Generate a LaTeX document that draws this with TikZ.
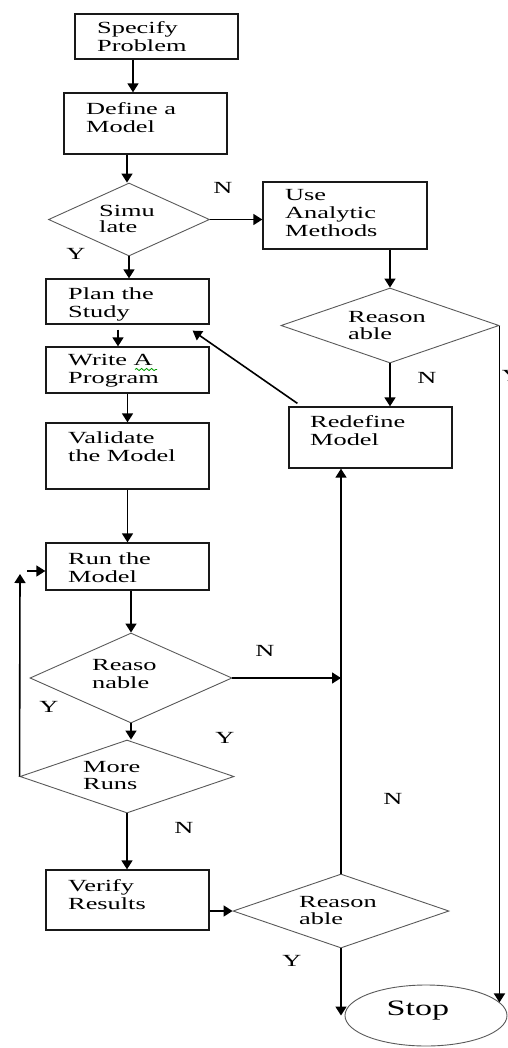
\documentclass[tikz,border=0pt]{standalone}
\usepackage{fontspec}
\setmainfont{Liberation Serif}[FakeStretch=1.55]
\usetikzlibrary{arrows.meta,shapes.geometric,decorations.pathmorphing}
\begin{document}
\begin{tikzpicture}[x=1bp,y=-1bp,
  proc/.style={draw=black!90,line width=1.3bp,rectangle,inner sep=0pt},
  dec/.style={draw=black!65,line width=0.9bp,diamond,inner sep=0pt},
  term/.style={draw=black!65,line width=0.9bp,ellipse,inner sep=0pt},
  txt/.style={font=\fontsize{17bp}{18bp}\selectfont,align=left,inner sep=0pt,anchor=north west,execute at begin node=\strut},
  dtxt/.style={font=\fontsize{17bp}{16.5bp}\selectfont,align=left,inner sep=0pt,anchor=north west,execute at begin node=\strut},
  lbl/.style={font=\fontsize{17bp}{18bp}\selectfont,inner sep=0pt},
  arr/.style={line width=1.6bp,-{Triangle[width=11bp,length=9bp]}},
  ln/.style={line width=1.6bp}]
\useasboundingbox (0,0) rectangle (508,1048);
\clip (0,0) rectangle (508,1048);
% boxes
\node[proc,minimum width=163bp,minimum height=45bp] (spec) at (156.5,36.5) {};
\node[proc,minimum width=163bp,minimum height=61bp] (def) at (145.5,123.5) {};
\node[proc,minimum width=164bp,minimum height=67bp] (use) at (345,215.5) {};
\node[proc,minimum width=163bp,minimum height=45bp] (plan) at (127.5,301.5) {};
\node[proc,minimum width=163bp,minimum height=46bp] (write) at (127.5,370) {};
\node[proc,minimum width=163bp,minimum height=66bp] (val) at (127.5,456) {};
\node[proc,minimum width=163bp,minimum height=47bp] (run) at (127.5,566.5) {};
\node[proc,minimum width=163bp,minimum height=60bp] (ver) at (127.5,900) {};
\node[proc,minimum width=163bp,minimum height=61bp] (redef) at (370.5,437.5) {};
% decisions
\node[dec,minimum width=161bp,minimum height=73bp] (sim) at (129,219.5) {};
\node[dec,minimum width=218bp,minimum height=75bp] (r2) at (390,325.5) {};
\node[dec,minimum width=202bp,minimum height=90bp] (r1) at (131,678) {};
\node[dec,minimum width=214bp,minimum height=73bp] (more) at (127,776.5) {};
\node[dec,minimum width=216bp,minimum height=74bp] (r3) at (341,911) {};
\node[term,minimum width=162bp,minimum height=61bp] (stop) at (426,1015.5) {};
% texts
\node[txt] (spect) at (97,21) {Specify\\Problem};
\node[txt] (deft) at (86,102.4) {Define a\\Model};
\node[dtxt] (simt) at (99,204.7) {Simu\\late};
\node[txt] (uset) at (285,189.4) {Use\\Analytic\\Methods};
\node[txt] (plant) at (68,287.4) {Plan the\\Study};
\node[dtxt] (r2t) at (348,311.4) {Reason\\able};
\node[txt] (writet) at (68,354.4) {Write A\\Program};
\node[txt] (redeft) at (310,415.4) {Redefine\\Model};
\node[txt] (valt) at (68,431.4) {Validate\\the Model};
\node[txt] (runt) at (68,552.4) {Run the\\Model};
\node[txt] (r1t) at (92,659.4) {Reaso\\nable};
\node[dtxt] (moret) at (83,761.4) {More\\Runs};
\node[txt] (vert) at (68,879.4) {Verify\\Results};
\node[dtxt] (r3t) at (299,896.4) {Reason\\able};
\node[inner sep=0pt,font=\fontsize{22bp}{24bp}\selectfont] (stopt) at (418,1011) {Stop};
\draw[green!60!black,line width=0.8bp,decorate,decoration={snake,amplitude=1.1bp,segment length=5bp}] (135,369.5) -- (157,369.5);
% labels
\node[lbl] (n1) at (223,188) {N};
\node[lbl] (y1) at (76,254) {Y};
\node[lbl] (n2) at (427,378) {N};
\node[lbl] (ycut) at (511.5,376) {Y};
\node[lbl] (n3) at (265,651) {N};
\node[lbl] (y2) at (49,707) {Y};
\node[lbl] (y3) at (225,738) {Y};
\node[lbl] (n4) at (184,828) {N};
\node[lbl] (n5) at (393,799) {N};
\node[lbl] (y4) at (292,961) {Y};
% connectors
\draw[arr] ([xshift=-23.5bp]spec.south) -- ([xshift=-23.5bp]spec.south |- def.north);
\draw[arr] ([xshift=-18.5bp]def.south) -- ([xshift=-18.5bp]def.south |- sim.north);
\draw[arr] (sim.east) -- (sim.east -| use.west);
\draw[arr] (sim.south) -- (sim.south |- plan.north);
\draw[arr] ([xshift=-9.5bp,yshift=-5bp]plan.south) -- ([xshift=-9.5bp]plan.south |- write.north);
\draw[arr] (write.south) -- (val.north);
\draw[arr] (val.south) -- (run.north);
\draw[arr] (run.south -| r1.north) -- (r1.north);
\draw[arr] (r1.south) -- (r1.south |- more.north);
\coordinate (lp) at (20,574);
\coordinate (lq) at (27,571);
\draw[arr] (more.west) -- (lp);
\draw[arr] (lq) -- (lq -| run.west);
\draw[arr] (r1.east) -- (r1.east -| r3.north);
\draw[arr] (more.south) -- (more.south |- ver.north);
\draw[arr] (ver.east |- r3.west) -- (r3.west);
\draw[arr] (r3.north) -- (r3.north |- redef.south);
\draw[arr] (r3.south) -- (r3.south |- stop.west);
\draw[arr] (use.south -| r2.north) -- (r2.north);
\draw[arr] (r2.south) -- (r2.south |- redef.north);
\draw[arr] (r2.east) -- (r2.east |- stop.10);
\draw[arr] ([xshift=9bp,yshift=3bp]redef.north west) -- ([shift={(-17bp,-6bp)}]plan.south east);
\end{tikzpicture}
\end{document}
